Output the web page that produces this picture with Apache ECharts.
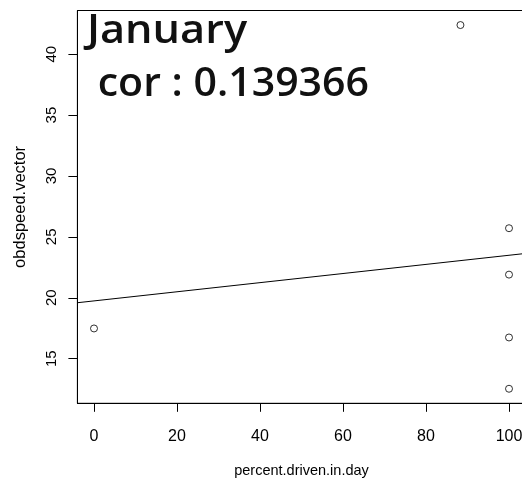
<!DOCTYPE html>
<html>
<head>
<meta charset="utf-8">
<script src="https://cdn.jsdelivr.net/npm/echarts@6/dist/echarts.min.js"></script>
<style>
  html, body { margin: 0; padding: 0; background: #fff; }
  #chart { width: 522px; height: 479px; }
</style>
</head>
<body>
<div id="chart"></div>
<script>
// Percent of the day driven vs. OBD speed, January
const percentDriven = [0, 88.3, 100, 100, 100, 100];
const obdSpeed = [17.48, 42.39, 25.71, 21.90, 16.74, 12.53];
const xTicks = [0, 20, 40, 60, 80, 100];
const yTicks = [15, 20, 25, 30, 35, 40];
const monthLabel = 'January';
const corLabel = ' cor : 0.139366';
const xTitle = 'percent.driven.in.day';
const yTitle = 'obdspeed.vector';

// axis range padded by 4% on each side
function paddedRange(v) {
  const lo = Math.min(...v), hi = Math.max(...v);
  const pad = (hi - lo) * 0.04;
  return [lo - pad, hi + pad];
}
const [xMin, xMax] = paddedRange(percentDriven);
const [yMin, yMax] = paddedRange(obdSpeed);

// least-squares fit, drawn across the whole plotting region
function linearFit(x, y) {
  const n = x.length;
  const mx = x.reduce((a, b) => a + b, 0) / n;
  const my = y.reduce((a, b) => a + b, 0) / n;
  let sxy = 0, sxx = 0;
  for (let i = 0; i < n; i++) {
    sxy += (x[i] - mx) * (y[i] - my);
    sxx += (x[i] - mx) * (x[i] - mx);
  }
  const slope = sxy / sxx;
  return { slope, intercept: my - slope * mx };
}
const fit = linearFit(percentDriven, obdSpeed);
const fitLine = [xMin, xMax].map(x => [x, fit.intercept + fit.slope * x]);

const points = percentDriven.map((x, i) => [x, obdSpeed[i]]);

const chart = echarts.init(document.getElementById('chart'), null, { renderer: 'canvas' });
const axisFont = 'Liberation Sans';
const noteFont = '600 39px "Open Sans"';

chart.setOption({
  animation: false,
  backgroundColor: '#fff',
  grid: {
    left: 77.4, top: 10.5, width: 448.2, height: 392.8,
    outerBoundsMode: 'none',
    show: true, borderColor: '#000', borderWidth: 1, backgroundColor: 'transparent'
  },
  xAxis: {
    type: 'value', min: xMin, max: xMax,
    axisLine: { show: true, onZero: false, lineStyle: { color: '#000', width: 1 } },
    splitLine: { show: false },
    axisTick: { show: true, length: 8.5, customValues: xTicks, lineStyle: { color: '#000' } },
    axisLabel: { customValues: xTicks, color: '#000', fontFamily: axisFont, fontSize: 16, margin: 25 },
    name: xTitle, nameLocation: 'middle', nameGap: 60,
    nameTextStyle: { color: '#000', fontFamily: axisFont, fontSize: 14.5 }
  },
  yAxis: {
    type: 'value', min: yMin, max: yMax,
    axisLine: { show: true, onZero: false, lineStyle: { color: '#000', width: 1 } },
    splitLine: { show: false },
    axisTick: { show: true, length: 9, customValues: yTicks, lineStyle: { color: '#000' } },
    axisLabel: { customValues: yTicks, color: '#000', fontFamily: axisFont, fontSize: 15, rotate: 90, margin: 18 },
    name: yTitle, nameLocation: 'middle', nameGap: 48, nameRotate: 90,
    nameTextStyle: { color: '#000', fontFamily: axisFont, fontSize: 16.5 }
  },
  series: [
    {
      type: 'line', data: fitLine, symbol: 'none', clip: true,
      lineStyle: { color: '#000', width: 1 }, silent: true
    },
    {
      type: 'scatter', data: points, symbol: 'circle', symbolSize: 7,
      itemStyle: { color: 'rgba(0,0,0,0)', borderColor: '#000', borderWidth: 1 }
    }
  ],
  graphic: [
    {
      type: 'text', left: 87, top: 12, scaleX: 1.11,
      style: { text: monthLabel, fill: '#111', font: noteFont }
    },
    {
      type: 'text', left: 87, top: 65, scaleX: 1.053,
      style: { text: corLabel, fill: '#111', font: noteFont }
    }
  ]
});
</script>
</body>
</html>
